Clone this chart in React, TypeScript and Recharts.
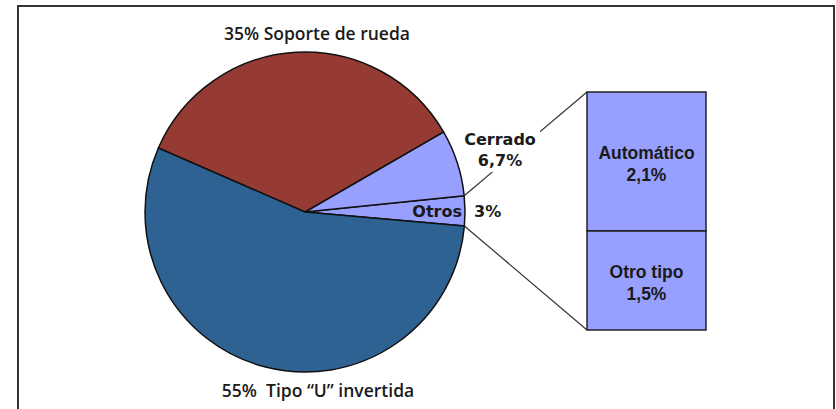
import React from "react";
import { PieChart, Pie, Cell, BarChart, Bar, XAxis, YAxis } from "recharts";

// main pie, counter-clockwise from the right
const pieNames = ["Otros", "Cerrado", "Soporte de rueda", "Tipo “U” invertida"];
const pieValues = [3, 6.7, 35, 55];
const pieLabels = ["3%", "6,7%", "35%", "55%"];
const pieColors = ["#98A0FF", "#98A0FF", "#953B34", "#2E6293"];

// breakdown of "Otros", bottom to top
const otrosNames = ["Otro tipo", "Automático"];
const otrosValues = [1.5, 2.1];
const otrosLabels = ["1,5%", "2,1%"];

const pieData = pieNames.map((name, i) => ({ name, value: pieValues[i] }));
const otrosData = [
  otrosNames.reduce(
    (row, n, i) => ({ ...row, [n]: otrosValues[i] }),
    { name: "Otros" } as Record<string, string | number>
  ),
];

const W = 836;
const H = 409;
const BAR_LEFT = 587;
const BAR_TOP = 92;
const BAR_W = 119;
const BAR_H = 238;

const RAD = Math.PI / 180;
const polar = (cx: number, cy: number, r: number, a: number) => ({
  x: cx + r * Math.cos(-a * RAD),
  y: cy + r * Math.sin(-a * RAD),
});

const sideFont = { fontFamily: "DejaVu Sans", fontWeight: 700, fontSize: 16, fill: "#1a1a1a" };
const bigFont = { fontFamily: "Open Sans", fontWeight: 600, fontSize: 17.5, fill: "#1a1a1a" };
const boxFont = { fontFamily: "Liberation Sans", fontWeight: 700, fontSize: 17.5, fill: "#1a1a1a" };

const renderPieLabel = (props: any) => {
  const { cx, cy, outerRadius, startAngle, endAngle, midAngle, index } = props;
  if (index === 0) {
    const a = polar(cx, cy, outerRadius, endAngle);
    const b = polar(cx, cy, outerRadius, startAngle);
    return (
      <g>
        <line x1={a.x} y1={a.y} x2={BAR_LEFT} y2={BAR_TOP} stroke="#333" strokeWidth={1.2} />
        <line x1={b.x} y1={b.y} x2={BAR_LEFT} y2={BAR_TOP + BAR_H} stroke="#333" strokeWidth={1.2} />
        <text x={cx + outerRadius - 3} y={cy + 5} textAnchor="end" {...sideFont}>
          {pieNames[0]}
        </text>
        <text x={cx + outerRadius + 9} y={cy + 5} textAnchor="start" {...sideFont}>
          {pieLabels[0]}
        </text>
      </g>
    );
  }
  if (index === 1) {
    const p = polar(cx, cy, outerRadius + 45, midAngle);
    return (
      <g>
        <rect x={p.x - 38} y={p.y - 23} width={78} height={46} fill="#fff" />
        <text x={p.x} y={p.y - 4} textAnchor="middle" {...sideFont}>
          {pieNames[1]}
        </text>
        <text x={p.x} y={p.y + 17} textAnchor="middle" {...sideFont}>
          {pieLabels[1]}
        </text>
      </g>
    );
  }
  if (index === 2) {
    return (
      <text x={cx + 12} y={cy - outerRadius - 12} textAnchor="middle" {...bigFont}>
        {`${pieLabels[2]} ${pieNames[2]}`}
      </text>
    );
  }
  return (
    <text x={cx + 13} y={cy + outerRadius + 25} textAnchor="middle" {...bigFont}>
      {`${pieLabels[3]}\u00A0 ${pieNames[3]}`}
    </text>
  );
};

const barLabel = (i: number) => (p: any) => {
  const mx = p.x + p.width / 2;
  const my = p.y + p.height / 2;
  return (
    <text textAnchor="middle" {...boxFont}>
      <tspan x={mx} y={my - 2}>
        {otrosNames[i]}
      </tspan>
      <tspan x={mx} y={my + 20}>
        {otrosLabels[i]}
      </tspan>
    </text>
  );
};

export default function App() {
  return (
    <div
      style={{
        position: "absolute",
        left: 0,
        top: 0,
        width: W,
        height: H,
        overflow: "hidden",
        background: "#fff",
      }}
    >
      <div
        style={{
          position: "absolute",
          left: 17,
          top: 5,
          width: 818,
          height: 430,
          boxSizing: "border-box",
          border: "2px solid #333",
        }}
      />
      <div style={{ position: "absolute", left: 0, top: 0 }}>
        <PieChart width={W} height={H} margin={{ top: 0, right: 0, bottom: 0, left: 0 }}>
          <Pie
            data={pieData}
            dataKey="value"
            nameKey="name"
            cx={305}
            cy={212}
            outerRadius={160}
            startAngle={-5}
            endAngle={355}
            stroke="#111"
            strokeWidth={1.5}
            label={renderPieLabel}
            labelLine={false}
            isAnimationActive={false}
          >
            {pieData.map((_, i) => (
              <Cell key={i} fill={pieColors[i]} />
            ))}
          </Pie>
        </PieChart>
      </div>
      <div style={{ position: "absolute", left: BAR_LEFT - 1, top: BAR_TOP - 1 }}>
        <BarChart
          width={BAR_W + 2}
          height={BAR_H + 2}
          data={otrosData}
          margin={{ top: 1, right: 1, bottom: 1, left: 1 }}
          barCategoryGap={0}
        >
          <XAxis dataKey="name" hide />
          <YAxis hide domain={[0, "dataMax"]} />
          {otrosNames.map((n, i) => (
            <Bar
              key={n}
              dataKey={n}
              stackId="otros"
              fill="#98A0FF"
              stroke="#222"
              strokeWidth={1.5}
              label={barLabel(i)}
              isAnimationActive={false}
            />
          ))}
        </BarChart>
      </div>
    </div>
  );
}
